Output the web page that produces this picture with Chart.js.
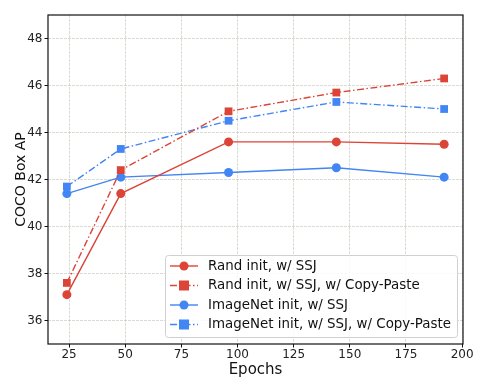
<!DOCTYPE html>
<html>
<head>
<meta charset="utf-8">
<script src="https://cdn.jsdelivr.net/npm/chart.js@4.4.1/dist/chart.umd.min.js"></script>
<style>
  html, body { margin: 0; padding: 0; background: #fff; }
  #wrap { width: 492px; height: 385px; }
</style>
</head>
<body>
<div id="wrap"><canvas id="chart" width="492" height="385"></canvas></div>
<script>
// Data
const epochs = [24, 48, 96, 144, 192];
const randSSJ = [37.1, 41.4, 43.6, 43.6, 43.5];
const randCopyPaste = [37.6, 42.4, 44.9, 45.7, 46.3];
const imagenetSSJ = [41.4, 42.1, 42.3, 42.5, 42.1];
const imagenetCopyPaste = [41.7, 43.3, 44.5, 45.3, 45.0];
const seriesLabels = [
  "Rand init, w/ SSJ",
  "Rand init, w/ SSJ, w/ Copy-Paste",
  "ImageNet init, w/ SSJ",
  "ImageNet init, w/ SSJ, w/ Copy-Paste",
];
const xTicks = [25, 50, 75, 100, 125, 150, 175, 200];
const yTicks = [36, 38, 40, 42, 44, 46, 48];

const red = "#db4437";
const blue = "#4285f4";
const dashDot = [7, 2.5, 1.5, 2.5];
const font = "'DejaVu Sans', sans-serif";

function toPoints(ys) {
  return epochs.map((x, i) => ({ x: x, y: ys[i] }));
}

function series(label, ys, color, shape, dash) {
  return {
    label: label,
    data: toPoints(ys),
    borderColor: color,
    backgroundColor: color,
    borderWidth: 1.4,
    borderDash: dash,
    pointStyle: shape,
    pointRadius: shape === "rect" ? 5.5 : 4.5,
    pointBorderWidth: 0,
    pointHoverRadius: 5,
    tension: 0,
  };
}

// legend drawn inside the plot, lower right, like the original
const innerLegend = {
  id: "innerLegend",
  afterDraw(chart) {
    const ctx = chart.ctx;
    const x0 = 165, y0 = 255, w = 292, h = 82;
    ctx.save();
    ctx.fillStyle = "rgba(255,255,255,0.85)";
    ctx.strokeStyle = "#d0d0d0";
    ctx.lineWidth = 1;
    ctx.beginPath();
    ctx.roundRect(x0 + 0.5, y0 + 0.5, w, h, 3);
    ctx.fill();
    ctx.stroke();
    chart.data.datasets.forEach((ds, i) => {
      const cy = y0 + 11 + i * 19.5;
      ctx.strokeStyle = ds.borderColor;
      ctx.lineWidth = ds.borderWidth;
      ctx.setLineDash(ds.borderDash || []);
      ctx.beginPath();
      ctx.moveTo(170, cy);
      ctx.lineTo(198, cy);
      ctx.stroke();
      ctx.setLineDash([]);
      ctx.fillStyle = ds.borderColor;
      if (ds.pointStyle === "rect") {
        ctx.fillRect(184 - 5, cy - 5, 10, 10);
      } else {
        ctx.beginPath();
        ctx.arc(184, cy, 4.5, 0, Math.PI * 2);
        ctx.fill();
      }
      ctx.fillStyle = "#111";
      ctx.font = "13.4px " + font;
      ctx.textBaseline = "middle";
      ctx.fillText(ds.label, 208, cy + 0.5);
    });
    ctx.restore();
  },
};

// black frame on all four sides
const frame = {
  id: "frame",
  afterDatasetsDraw(chart) {
    const a = chart.chartArea;
    const ctx = chart.ctx;
    ctx.save();
    ctx.strokeStyle = "#111";
    ctx.lineWidth = 1.2;
    ctx.strokeRect(a.left, a.top, a.right - a.left, a.bottom - a.top);
    ctx.restore();
  },
};

const gridOpts = {
  color: "rgba(190,190,180,0.55)",
  tickColor: "#111",
  tickBorderDash: [],
  lineWidth: 1,
};

new Chart(document.getElementById("chart"), {
  type: "line",
  data: {
    datasets: [
      series(seriesLabels[0], randSSJ, red, "circle", []),
      series(seriesLabels[1], randCopyPaste, red, "rect", dashDot),
      series(seriesLabels[2], imagenetSSJ, blue, "circle", []),
      series(seriesLabels[3], imagenetCopyPaste, blue, "rect", dashDot),
    ],
  },
  options: {
    responsive: false,
    animation: false,
    layout: { padding: { top: 15, right: 29, left: 0, bottom: 0 } },
    plugins: {
      legend: { display: false },
      tooltip: { enabled: false },
    },
    scales: {
      x: {
        type: "linear",
        min: 15.6,
        max: 200.4,
        afterBuildTicks: (axis) => { axis.ticks = xTicks.map((v) => ({ value: v })); },
        afterFit: (axis) => { axis.height = 41; },
        grid: Object.assign({}, gridOpts, { tickLength: 3.5 }),
        border: { display: false, dash: [3, 1] },
        ticks: { color: "#222", font: { family: font, size: 12 }, padding: 0, maxRotation: 0 },
        title: {
          display: true,
          text: "Epochs",
          color: "#111",
          font: { family: font, size: 15 },
          padding: { top: 0, bottom: 6 },
        },
      },
      y: {
        min: 35,
        max: 49,
        afterBuildTicks: (axis) => { axis.ticks = yTicks.map((v) => ({ value: v })); },
        afterFit: (axis) => { axis.width = 48; },
        grid: Object.assign({}, gridOpts, { tickLength: 3.5 }),
        border: { display: false, dash: [3, 1] },
        ticks: { color: "#222", font: { family: font, size: 12 }, padding: 2 },
        title: {
          display: true,
          text: "COCO Box AP",
          color: "#111",
          font: { family: font, size: 14 },
          padding: { top: 13, bottom: 0 },
        },
      },
    },
  },
  plugins: [frame, innerLegend],
});
</script>
</body>
</html>
